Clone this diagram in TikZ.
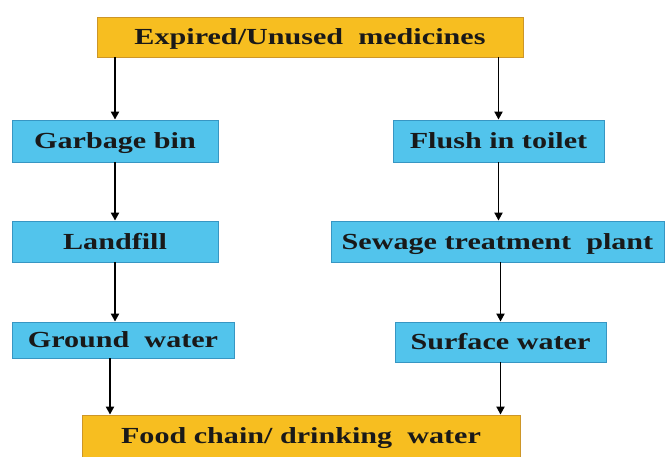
\documentclass[tikz,border=0pt]{standalone}
\usepackage{fontspec}
\setmainfont{Liberation Serif}[FakeStretch=1.31]
\usetikzlibrary{arrows.meta}
\definecolor{goldfill}{RGB}{247,190,32}
\definecolor{golddraw}{RGB}{205,150,40}
\definecolor{bluefill}{RGB}{82,196,236}
\definecolor{bluedraw}{RGB}{55,150,195}
\tikzset{
  box/.style={rectangle, inner sep=0pt, text height=15.2pt, text depth=0pt, font=\fontsize{23}{27}\selectfont\bfseries, text=black!90},
  goldbox/.style={box, fill=goldfill, draw=golddraw, line width=0.8pt},
  bluebox/.style={box, fill=bluefill, draw=bluedraw, line width=0.8pt},
  arr/.style={line width=1.9pt, -{Triangle[length=8pt,width=8pt]}}
}
\begin{document}
\begin{tikzpicture}[x=1pt,y=1pt]
\useasboundingbox (0,0) rectangle (667,457);
\fill[white] (0,0) rectangle (667,457);
\node[goldbox, minimum width=426pt, minimum height=40pt] (top) at (310,420) {Expired/Unused\ \ medicines};
\node[bluebox, minimum width=206pt, minimum height=42pt] (garb) at (115,316) {Garbage\ bin};
\node[bluebox, minimum width=211pt, minimum height=42pt] (flush) at (498.5,316) {Flush\ in\ toilet};
\node[bluebox, minimum width=206pt, minimum height=41pt] (land) at (115,215.5) {Landfill};
\node[bluebox, minimum width=333pt, minimum height=41pt] (sew) at (497.5,215.5) {Sewage\ treatment\ \ plant};
\node[bluebox, minimum width=222pt, minimum height=36pt] (ground) at (123,117) {Ground\ \ water};
\node[bluebox, minimum width=211pt, minimum height=40pt] (surf) at (500.5,115) {Surface\ water};
\node[goldbox, minimum width=438pt, minimum height=42pt] (food) at (301,21) {Food chain/\ drinking\ \ water};
\draw[arr] (top.south -| garb.north) -- (garb.north);
\draw[arr] (garb.south) -- (land.north);
\draw[arr] (land.south) -- (land.south |- ground.north);
\draw[arr] ([xshift=-13pt]ground.south) -- ([xshift=-13pt]ground.south |- food.north);
\draw[arr] (top.south -| flush.north) -- (flush.north);
\draw[arr] (flush.south) -- (flush.south |- sew.north);
\draw[arr] (sew.south -| surf.north) -- (surf.north);
\draw[arr] (surf.south) -- (surf.south |- food.north);
\end{tikzpicture}
\end{document}
